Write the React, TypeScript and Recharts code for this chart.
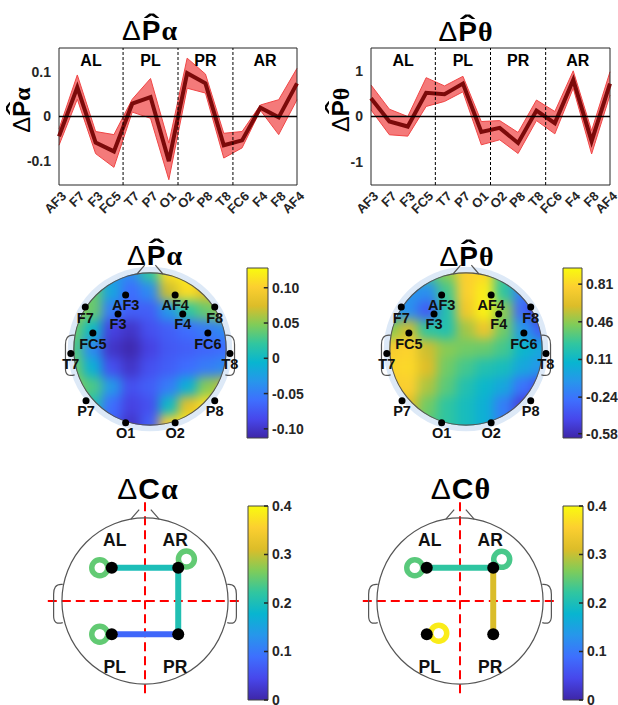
import React from "react";
import {
  ComposedChart,
  Area,
  Line,
  XAxis,
  YAxis,
  ReferenceLine,
  ReferenceArea,
  ScatterChart,
  Scatter,
} from "recharts";

// ---- line panels -------------------------------------------------------
const channels = ["AF3", "F7", "F3", "FC5", "T7", "P7", "O1", "O2", "P8", "T8", "FC6", "F4", "F8", "AF4"];

const alphaMean = [-0.045, 0.066, -0.059, -0.079, 0.029, 0.044, -0.101, 0.098, 0.075, -0.065, -0.054, 0.02, -0.002, 0.075];
const alphaUpper = [-0.028, 0.094, -0.034, -0.041, 0.039, 0.086, -0.06, 0.132, 0.096, -0.038, -0.034, 0.026, 0.038, 0.109];
const alphaLower = [-0.065, 0.039, -0.084, -0.115, 0.01, -0.004, -0.143, 0.064, 0.053, -0.094, -0.071, 0.014, -0.041, 0.038];

const thetaMean = [0.4, -0.11, -0.22, 0.52, 0.49, 0.72, -0.34, -0.25, -0.58, 0.13, -0.145, 0.8, -0.54, 0.72];
const thetaUpper = [0.69, 0.16, 0.0, 0.85, 0.67, 0.88, -0.11, -0.09, -0.35, 0.36, 0.11, 1.0, -0.31, 0.98];
const thetaLower = [0.145, -0.4, -0.43, 0.22, 0.33, 0.54, -0.62, -0.51, -0.81, -0.09, -0.38, 0.62, -0.82, 0.47];

const regionNames = ["AL", "PL", "PR", "AR"];
const regionStart = [0, 3.5, 6.5, 9.5];
const regionEnd = [3.5, 6.5, 9.5, 13];

// ---- topographic maps (values read on a 9x9 grid, head radius = 1) ------
const gridX = [-1, -0.75, -0.5, -0.25, 0, 0.25, 0.5, 0.75, 1];
const gridY = [1, 0.75, 0.5, 0.25, 0, -0.25, -0.5, -0.75, -1];

const alphaTopo = [
  [0.0, -0.01, -0.03, -0.04, 0.02, 0.11, 0.12, 0.1, 0.07],
  [0.04, 0.04, -0.02, -0.06, -0.04, 0.07, 0.11, 0.08, 0.06],
  [0.06, 0.04, -0.05, -0.07, -0.07, -0.03, 0.02, 0.04, 0.06],
  [0.04, 0.0, -0.09, -0.1, -0.08, -0.07, -0.06, -0.05, -0.04],
  [0.03, -0.04, -0.1, -0.11, -0.09, -0.075, -0.07, -0.065, -0.06],
  [0.04, -0.01, -0.08, -0.1, -0.08, -0.07, -0.06, -0.05, -0.04],
  [0.05, 0.03, -0.03, -0.08, -0.07, -0.05, -0.01, 0.05, 0.07],
  [0.04, 0.01, -0.06, -0.09, -0.08, 0.0, 0.08, 0.11, 0.1],
  [0.01, -0.03, -0.07, -0.1, -0.07, 0.1, 0.12, 0.11, 0.09],
];

const thetaTopo = [
  [0.0, 0.1, 0.3, 0.45, 0.78, 0.82, 0.3, 0.0, -0.2],
  [-0.05, -0.1, -0.12, 0.3, 0.78, 0.9, 0.25, -0.2, -0.45],
  [-0.05, -0.12, -0.35, 0.2, 0.72, 0.93, 0.45, -0.3, -0.58],
  [0.45, 0.58, 0.25, 0.2, 0.5, 0.7, 0.4, -0.08, -0.35],
  [0.75, 0.8, 0.58, 0.45, 0.4, 0.38, 0.3, 0.1, 0.0],
  [0.8, 0.82, 0.62, 0.4, 0.3, 0.2, 0.15, 0.0, -0.1],
  [0.75, 0.78, 0.52, 0.35, 0.2, 0.1, 0.0, -0.25, -0.42],
  [0.65, 0.62, 0.4, 0.25, 0.15, 0.05, -0.2, -0.48, -0.55],
  [0.55, 0.45, 0.35, 0.25, 0.15, 0.05, -0.2, -0.42, -0.5],
];

const electrodeNames = ["AF3", "AF4", "F7", "F8", "F3", "F4", "FC5", "FC6", "T7", "T8", "P7", "P8", "O1", "O2"];
const electrodeX = [-0.32, 0.33, -0.85, 0.85, -0.42, 0.43, -0.75, 0.76, -1.04, 1.05, -0.84, 0.85, -0.32, 0.33];
const electrodeY = [0.71, 0.71, 0.55, 0.55, 0.46, 0.46, 0.21, 0.21, -0.06, -0.06, -0.68, -0.68, -0.97, -0.97];

const alphaBarMin = -0.113;
const alphaBarMax = 0.128;
const alphaBarTicks = [-0.1, -0.05, 0, 0.05, 0.1];
const alphaBarLabels = ["-0.10", "-0.05", "0", "0.05", "0.10"];
const thetaBarMin = -0.62;
const thetaBarMax = 0.96;
const thetaBarTicks = [-0.58, -0.24, 0.11, 0.46, 0.81];
const thetaBarLabels = ["-0.58", "-0.24", "0.11", "0.46", "0.81"];

// ---- connectivity -------------------------------------------------------
const regionNodes = [
  { name: "AL", x: -0.4, y: 0.4 },
  { name: "AR", x: 0.4, y: 0.4 },
  { name: "PL", x: -0.4, y: -0.4 },
  { name: "PR", x: 0.4, y: -0.4 },
];
const connTicks = [0, 0.1, 0.2, 0.3, 0.4];
const alphaEdges = [
  { from: "AL", to: "AR", value: 0.2 },
  { from: "AR", to: "PR", value: 0.205 },
  { from: "PL", to: "PR", value: 0.08 },
];
const alphaLoops = [
  { node: "AL", value: 0.25 },
  { node: "AR", value: 0.25 },
  { node: "PL", value: 0.25 },
];
const thetaEdges = [
  { from: "AL", to: "AR", value: 0.22 },
  { from: "AR", to: "PR", value: 0.31 },
];
const thetaLoops = [
  { node: "AL", value: 0.245 },
  { node: "AR", value: 0.235 },
  { node: "PL", value: 0.385 },
];
// loop direction on the drawing, degrees
const alphaLoopAngle: Record<string, number> = { AL: 180, AR: 47, PL: 180 };
const thetaLoopAngle: Record<string, number> = { AL: 180, AR: 45, PL: 5 };

// ---- colour map ---------------------------------------------------------
const PARULA = ["#3e26a8", "#4747eb", "#3e6ffe", "#2796eb", "#08b5d0", "#31c69f", "#80cc59", "#dcbd29", "#fccf30", "#f9fb0e"];

function hexToRgb(h: string) {
  const n = parseInt(h.slice(1), 16);
  return [(n >> 16) & 255, (n >> 8) & 255, n & 255];
}

function parula(t: number) {
  const tt = Math.max(0, Math.min(1, t)) * (PARULA.length - 1);
  const i = Math.min(PARULA.length - 2, Math.floor(tt));
  const f = tt - i;
  const a = hexToRgb(PARULA[i]);
  const b = hexToRgb(PARULA[i + 1]);
  const c = a.map((v, k) => Math.round(v + (b[k] - v) * f));
  return `rgb(${c[0]},${c[1]},${c[2]})`;
}

const INK = "#262626";

// ---- titles -------------------------------------------------------------
function MathText({ letter, greek, size, hat }: { letter: string; greek: string; size: number; hat?: boolean }) {
  return (
    <>
      <span style={{ fontWeight: 400 }}>Δ</span>
      <span style={{ position: "relative", fontWeight: 700 }}>
        {letter}
        {hat && (
          <span
            style={{
              position: "absolute",
              left: 0,
              right: 0,
              top: -size * 0.15,
              textAlign: "center",
              lineHeight: 1,
              transform: "scaleX(1.5)",
            }}
          >
            ˆ
          </span>
        )}
      </span>
      <span style={{ fontWeight: 700, fontFamily: '"Liberation Serif", serif' }}>{greek}</span>
    </>
  );
}

function Title({ cx, baseline, size, letter, greek, hat }: any) {
  return (
    <div
      style={{
        position: "absolute",
        left: cx - 100,
        top: baseline - Math.round(size * 0.86),
        width: 200,
        textAlign: "center",
        fontSize: size,
        lineHeight: `${size}px`,
        whiteSpace: "nowrap",
        color: "#000",
        letterSpacing: 1,
      }}
    >
      <MathText letter={letter} greek={greek} size={size} hat={hat} />
    </div>
  );
}

function SideLabel({ cx, cy, greek }: { cx: number; cy: number; greek: string }) {
  return (
    <div
      style={{
        position: "absolute",
        left: cx - 60,
        top: cy - 14,
        width: 120,
        height: 28,
        transform: "rotate(-90deg)",
        textAlign: "center",
        fontSize: 24,
        lineHeight: "28px",
        whiteSpace: "nowrap",
        color: "#000",
      }}
    >
      <MathText letter="P" greek={greek} size={24} hat />
    </div>
  );
}

// ---- line chart ---------------------------------------------------------
function ChannelTick(props: any) {
  const { x, y, payload } = props;
  const tx = x + 8;
  const ty = y + 4;
  return (
    <text
      x={tx}
      y={ty}
      transform={`rotate(-45 ${tx} ${ty})`}
      textAnchor="end"
      fontSize={13}
      fontWeight={700}
      fill={INK}
    >
      {channels[payload.value]}
    </text>
  );
}

function BandChart({ mean, lower, upper, yMax, yTicks, yWidth, right }: any) {
  const data = channels.map((c, i) => ({ i, name: c, mean: mean[i], band: [lower[i], upper[i]] }));
  return (
    <ComposedChart width={310} height={230} data={data} margin={{ top: 48, right, bottom: 0, left: 0 }}>
      <XAxis
        type="number"
        dataKey="i"
        domain={[0, 13]}
        ticks={channels.map((_, i) => i)}
        interval={0}
        height={45}
        tickLine={false}
        axisLine={false}
        tick={<ChannelTick />}
      />
      <YAxis
        type="number"
        domain={[-yMax, yMax]}
        ticks={yTicks}
        width={yWidth}
        allowDataOverflow
        tickLine={false}
        axisLine={false}
        tick={{ fontSize: 14, fontWeight: 700, fill: INK }}
      />
      <Area
        type="linear"
        dataKey="band"
        stroke="#f04646"
        strokeWidth={1}
        fill="#f47a7a"
        fillOpacity={1}
        isAnimationActive={false}
      />
      <Line type="linear" dataKey="mean" stroke="#7c0a0a" strokeWidth={4} dot={false} isAnimationActive={false} />
      <ReferenceLine y={0} stroke="#000" strokeWidth={1.5} />
      {regionStart.slice(1).map((d) => (
        <ReferenceLine key={d} x={d} stroke="#000" strokeWidth={1} strokeDasharray="3 2" />
      ))}
      {regionNames.map((r, k) => (
        <ReferenceArea
          key={r}
          x1={regionStart[k]}
          x2={regionEnd[k]}
          y1={-yMax}
          y2={yMax}
          fillOpacity={0}
          strokeOpacity={0}
          label={{ value: r, position: "insideTop", offset: 7, fontSize: 16, fontWeight: 700, fill: "#000" }}
        />
      ))}
      <ReferenceArea x1={0} x2={13} y1={-yMax} y2={yMax} fill="none" stroke={INK} strokeWidth={1} />
    </ComposedChart>
  );
}

// ---- head drawing helpers ----------------------------------------------
function earPath(cx: number, cy: number, u: number, side: number, yTop: number, yBot: number, out: number) {
  const X = (v: number) => cx + side * v * u;
  const Y = (v: number) => cy - v * u;
  return `M ${X(0.99)} ${Y(yTop)} C ${X(out - 0.02)} ${Y(yTop + 0.01)}, ${X(out)} ${Y(yTop - 0.05)}, ${X(out)} ${Y(yTop - 0.12)} L ${X(out)} ${Y(yBot + 0.1)} C ${X(out)} ${Y(yBot + 0.02)}, ${X(out - 0.04)} ${Y(yBot)}, ${X(0.99)} ${Y(yBot + 0.02)}`;
}

function HeadOutline({ cx, cy, u, yTop, yBot, out, stroke }: any) {
  return (
    <g fill="none" stroke={stroke} strokeWidth={1.2}>
      <circle cx={cx} cy={cy} r={u} />
      <path d={earPath(cx, cy, u, -1, yTop, yBot, out)} />
      <path d={earPath(cx, cy, u, 1, yTop, yBot, out)} />
      <line x1={cx - 0.17 * u} y1={cy - 0.985 * u} x2={cx - 0.07 * u} y2={cy - 1.1 * u} />
      <line x1={cx + 0.17 * u} y1={cy - 0.985 * u} x2={cx + 0.07 * u} y2={cy - 1.1 * u} />
    </g>
  );
}

// ---- topographic map ----------------------------------------------------
const TOPO = 198;
const SPAN = 1.3;

function Topomap({ grid, id, min, max }: any) {
  const u = TOPO / (2 * SPAN);
  const cell = 0.25 * u + 1;
  const cells: any[] = [];
  gridY.forEach((gy, r) => gridX.forEach((gx, c) => cells.push({ x: gx, y: gy, v: grid[r][c] })));
  const elec = electrodeNames.map((n, i) => ({ name: n, x: electrodeX[i], y: electrodeY[i] }));
  const origin = [{ x: 0, y: 0 }];
  return (
    <ScatterChart width={TOPO} height={TOPO} margin={{ top: 0, right: 0, bottom: 0, left: 0 }} style={{ overflow: "visible" }}>
      <defs>
        <filter id={`blur-${id}`} x="-10%" y="-10%" width="120%" height="120%" colorInterpolationFilters="sRGB">
          <feGaussianBlur stdDeviation={5.5} />
          <feComponentTransfer>
            <feFuncA type="linear" slope={3} />
          </feComponentTransfer>
        </filter>
        <clipPath id={`clip-${id}`} clipPathUnits="objectBoundingBox">
          <circle cx={0.5} cy={0.5} r={1 / 2.25} />
        </clipPath>
      </defs>
      <XAxis type="number" dataKey="x" domain={[-SPAN, SPAN]} hide />
      <YAxis type="number" dataKey="y" domain={[-SPAN, SPAN]} hide />
      <Scatter
        data={origin}
        isAnimationActive={false}
        shape={(p: any) => <circle cx={p.cx} cy={p.cy} r={1.08 * u} fill="#dde9f7" />}
      />
      <Scatter
        data={cells}
        className={`cells-${id}`}
        isAnimationActive={false}
        shape={(p: any) => (
          <rect
            x={p.cx - cell / 2}
            y={p.cy - cell / 2}
            width={cell}
            height={cell}
            fill={parula((p.payload.v - min) / (max - min))}
          />
        )}
      />
      <Scatter
        data={origin}
        isAnimationActive={false}
        shape={(p: any) => <HeadOutline cx={p.cx} cy={p.cy} u={u} yTop={0.18} yBot={-0.36} out={1.11} stroke="#555" />}
      />
      <Scatter
        data={elec}
        isAnimationActive={false}
        shape={(p: any) => (
          <g>
            <circle cx={p.cx} cy={p.cy} r={3.5} fill="#000" />
            <text x={p.cx} y={p.cy + 15.5} textAnchor="middle" fontSize={14.5} fontWeight={700} fill="#111">
              {p.payload.name}
            </text>
          </g>
        )}
      />
    </ScatterChart>
  );
}

// ---- colour bar ---------------------------------------------------------
function ColorBar({ id, barW, barH, min, max, ticks, labels }: any) {
  const fmt = (v: number) => labels[ticks.indexOf(v)] ?? String(v);
  return (
    <ComposedChart width={barW + 50} height={barH + 20} margin={{ top: 10, right: 0, bottom: 10, left: 0 }} data={[{ x: 0 }, { x: 1 }]}>
      <defs>
        <linearGradient id={`grad-${id}`} x1="0" y1="1" x2="0" y2="0">
          {PARULA.map((c, i) => (
            <stop key={i} offset={i / (PARULA.length - 1)} stopColor={c} />
          ))}
        </linearGradient>
      </defs>
      <XAxis type="number" dataKey="x" domain={[0, 1]} hide />
      <YAxis
        orientation="right"
        type="number"
        domain={[min, max]}
        ticks={ticks}
        width={50}
        allowDataOverflow
        tickLine={false}
        axisLine={false}
        tickSize={2}
        tickMargin={2}
        tickFormatter={fmt}
        tick={{ fontSize: 14, fontWeight: 700, fill: INK }}
      />
      <ReferenceArea x1={0} x2={1} y1={min} y2={max} fill={`url(#grad-${id})`} fillOpacity={1} stroke="#444" strokeWidth={1} />
      {ticks.map((t: number) => (
        <ReferenceLine key={t} segment={[{ x: 0.8, y: t }, { x: 1, y: t }]} stroke={INK} strokeWidth={1.5} />
      ))}
    </ComposedChart>
  );
}

// ---- connectivity -------------------------------------------------------
const CONN = 216;

function Connectivity({ edges, loops, loopAngle }: any) {
  const u = CONN / (2 * SPAN);
  const pos = (n: string) => regionNodes.find((r) => r.name === n)!;
  const origin = [{ x: 0, y: 0 }];
  const loopData = loops.map((l: any) => ({ ...pos(l.node), value: l.value }));
  return (
    <ScatterChart width={CONN} height={CONN} margin={{ top: 0, right: 0, bottom: 0, left: 0 }} style={{ overflow: "visible" }}>
      <XAxis type="number" dataKey="x" domain={[-SPAN, SPAN]} hide />
      <YAxis type="number" dataKey="y" domain={[-SPAN, SPAN]} hide />
      <Scatter
        data={origin}
        isAnimationActive={false}
        shape={(p: any) => <HeadOutline cx={p.cx} cy={p.cy} u={u} yTop={0.2} yBot={-0.28} out={1.1} stroke="#555" />}
      />
      <ReferenceLine segment={[{ x: 0, y: 1.19 }, { x: 0, y: -1.16 }]} stroke="#ff0000" strokeWidth={2} strokeDasharray="9 5" />
      <ReferenceLine segment={[{ x: -1.17, y: 0 }, { x: 1.15, y: 0 }]} stroke="#ff0000" strokeWidth={2} strokeDasharray="9 5" />
      {edges.map((e: any, k: number) => (
        <Scatter
          key={k}
          data={[pos(e.from), pos(e.to)]}
          line={{ stroke: parula(e.value / 0.4), strokeWidth: 6 }}
          lineType="joint"
          isAnimationActive={false}
          shape={() => <g />}
        />
      ))}
      <Scatter
        data={loopData}
        isAnimationActive={false}
        shape={(p: any) => {
          const a = (loopAngle[p.payload.name] * Math.PI) / 180;
          return (
            <circle
              cx={p.cx + 12 * Math.cos(a)}
              cy={p.cy - 12 * Math.sin(a)}
              r={8}
              fill="none"
              stroke={parula(p.payload.value / 0.4)}
              strokeWidth={5.5}
            />
          );
        }}
      />
      <Scatter
        data={regionNodes}
        isAnimationActive={false}
        shape={(p: any) => {
          const front = p.payload.y > 0;
          const dx = p.payload.x < 0 ? 3 : -3;
          return (
            <g>
              <circle cx={p.cx} cy={p.cy} r={6} fill="#000" />
              <text
                x={p.cx + dx}
                y={front ? p.cy - 22 : p.cy + 39}
                textAnchor="middle"
                fontSize={17.5}
                fontWeight={700}
                fill="#111"
              >
                {p.payload.name}
              </text>
            </g>
          );
        }}
      />
    </ScatterChart>
  );
}

const css = `
.cells-ta { filter: url(#blur-ta); clip-path: url(#clip-ta); }
.cells-tt { filter: url(#blur-tt); clip-path: url(#clip-tt); }
svg.recharts-surface { overflow: visible; }
`;

export default function App() {
  const abs = (left: number, top: number): React.CSSProperties => ({ position: "absolute", left, top });
  return (
    <div
      style={{
        position: "absolute",
        left: 0,
        top: 0,
        width: 618,
        height: 705,
        background: "#fff",
        overflow: "hidden",
        fontFamily: '"Liberation Sans", Arial, sans-serif',
      }}
    >
      <style>{css}</style>

      {/* top row */}
      <div style={abs(0, 0)}>
        <BandChart mean={alphaMean} lower={alphaLower} upper={alphaUpper} yMax={0.155} yTicks={[-0.1, 0, 0.1]} yWidth={59} right={13} />
      </div>
      <div style={abs(308, 0)}>
        <BandChart mean={thetaMean} lower={thetaLower} upper={thetaUpper} yMax={1.5} yTicks={[-1, 0, 1]} yWidth={63} right={8} />
      </div>
      <Title cx={150} baseline={41} size={28} letter="P" greek="α" hat />
      <Title cx={466} baseline={42} size={28} letter="P" greek="θ" hat />
      <SideLabel cx={22} cy={110} greek="α" />
      <SideLabel cx={341} cy={110} greek="θ" />

      {/* middle row */}
      <div style={abs(150 - TOPO / 2, 349 - TOPO / 2)}>
        <Topomap grid={alphaTopo} id="ta" min={alphaBarMin} max={alphaBarMax} />
      </div>
      <div style={abs(466 - TOPO / 2, 349 - TOPO / 2)}>
        <Topomap grid={thetaTopo} id="tt" min={thetaBarMin} max={thetaBarMax} />
      </div>
      <Title cx={155} baseline={266} size={28} letter="P" greek="α" hat />
      <Title cx={467} baseline={267} size={28} letter="P" greek="θ" hat />
      <div style={abs(247, 258)}>
        <ColorBar id="ba" barW={21} barH={170} min={alphaBarMin} max={alphaBarMax} ticks={alphaBarTicks} labels={alphaBarLabels} />
      </div>
      <div style={abs(563, 258)}>
        <ColorBar id="bt" barW={19} barH={170} min={thetaBarMin} max={thetaBarMax} ticks={thetaBarTicks} labels={thetaBarLabels} />
      </div>

      {/* bottom row */}
      <div style={abs(145 - CONN / 2, 601 - CONN / 2)}>
        <Connectivity edges={alphaEdges} loops={alphaLoops} loopAngle={alphaLoopAngle} />
      </div>
      <div style={abs(460 - CONN / 2, 601 - CONN / 2)}>
        <Connectivity edges={thetaEdges} loops={thetaLoops} loopAngle={thetaLoopAngle} />
      </div>
      <Title cx={148} baseline={500} size={30} letter="C" greek="α" />
      <Title cx={461} baseline={500} size={30} letter="C" greek="θ" />
      <div style={abs(248, 496)}>
        <ColorBar id="ca" barW={20} barH={194} min={0} max={0.4} ticks={connTicks} labels={connTicks.map(String)} />
      </div>
      <div style={abs(563, 496)}>
        <ColorBar id="ct" barW={20} barH={194} min={0} max={0.4} ticks={connTicks} labels={connTicks.map(String)} />
      </div>
    </div>
  );
}
